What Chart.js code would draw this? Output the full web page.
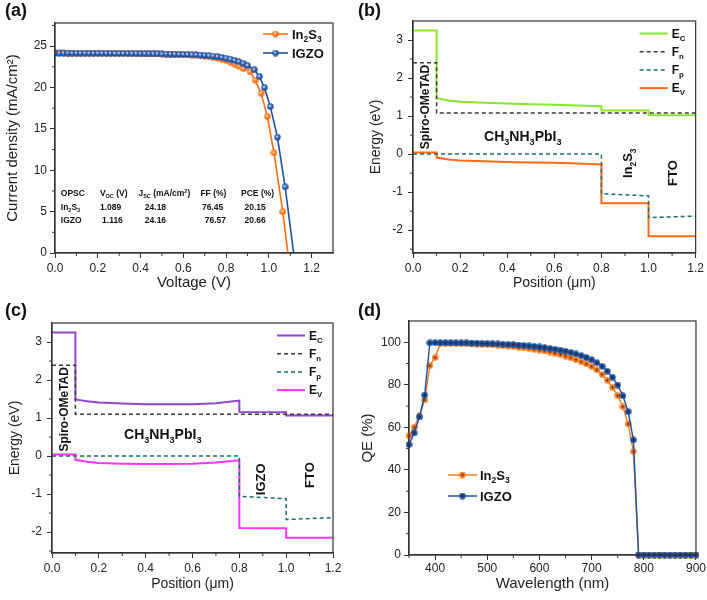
<!DOCTYPE html>
<html>
<head>
<meta charset="utf-8">
<script src="https://cdn.jsdelivr.net/npm/chart.js@4.4.0/dist/chart.umd.min.js"></script>
<style>
    html, body { margin: 0; padding: 0; background: #fff; }
    #wrap { position: relative; width: 707px; height: 600px; }
    canvas { position: absolute; }
</style>
</head>
<body>
<div id="wrap">
    <canvas id="chartA" width="353" height="300" style="left:0;top:0"></canvas>
    <canvas id="chartB" width="354" height="300" style="left:353px;top:0"></canvas>
    <canvas id="chartC" width="353" height="300" style="left:0;top:300px"></canvas>
    <canvas id="chartD" width="354" height="300" style="left:353px;top:300px"></canvas>
</div>
<script>
// ---- (a) J-V data ----
const voltageIn2S3 = [0.00,0.02,0.04,0.06,0.08,0.10,0.12,0.14,0.16,0.18,0.20,0.22,0.24,0.26,0.28,0.30,0.32,0.34,0.36,0.38,0.40,0.42,0.44,0.46,0.48,0.50,
    0.52,0.54,0.56,0.58,0.60,0.62,0.64,0.66,0.68,0.70,0.72,0.74,0.76,0.78,0.80,0.82,0.84,0.86,0.88,0.912,0.936,0.964,0.993,1.024,1.065,1.089];
const currentIn2S3 = [24.18,24.18,24.18,24.17,24.17,24.17,24.16,24.16,24.16,24.15,24.15,24.15,24.14,24.14,24.13,24.13,24.12,24.12,24.11,24.10,24.10,24.09,24.08,24.07,24.06,24.05,
    24.04,24.03,24.01,24.00,23.98,23.96,23.93,23.90,23.86,23.81,23.75,23.67,23.56,23.43,23.27,23.07,22.84,22.58,22.28,21.9,20.9,19.3,16.5,12.1,5.0,0];
const voltageIGZO = [0.00,0.02,0.04,0.06,0.08,0.10,0.12,0.14,0.16,0.18,0.20,0.22,0.24,0.26,0.28,0.30,0.32,0.34,0.36,0.38,0.40,0.42,0.44,0.46,0.48,0.50,
    0.52,0.54,0.56,0.58,0.60,0.62,0.64,0.66,0.68,0.70,0.72,0.74,0.76,0.78,0.80,0.82,0.84,0.86,0.88,0.90,0.932,0.956,0.979,1.007,1.040,1.076,1.116];
const currentIGZO = [24.16,24.16,24.16,24.16,24.15,24.15,24.15,24.15,24.14,24.14,24.14,24.13,24.13,24.13,24.12,24.12,24.11,24.11,24.10,24.10,24.09,24.09,24.08,24.07,24.07,24.06,
    24.05,24.04,24.03,24.02,24.00,23.99,23.97,23.95,23.92,23.89,23.85,23.80,23.73,23.65,23.55,23.43,23.29,23.12,22.92,22.66,22.15,21.35,20.0,17.7,14.0,8.0,0];
const voltageTicks = [0, 0.2, 0.4, 0.6, 0.8, 1.0, 1.2];
const minorVoltage = [0.1, 0.3, 0.5, 0.7, 0.9, 1.1];
const currentTicks = [0, 5, 10, 15, 20, 25];
const minorCurrent = [2.5, 7.5, 12.5, 17.5, 22.5, 27.5];
// table inside (a): Voc, Jsc, FF, PCE
const tableIn2S3 = ["1.089", "24.18", "76.45", "20.15"];
const tableIGZO = ["1.116", "24.16", "76.57", "20.66"];

// ---- (b) band diagram, In2S3 ETL ----
const posBands = [0, 0.1, 0.1, 0.15, 0.2, 0.3, 0.4, 0.5, 0.6, 0.7, 0.8, 0.8, 1.0, 1.0, 1.2];
const ecIn2S3 = [3.25, 3.25, 1.47, 1.41, 1.38, 1.35, 1.33, 1.31, 1.30, 1.28, 1.26, 1.15, 1.15, 1.02, 1.02];
const evIn2S3 = [0.04, 0.04, -0.09, -0.14, -0.17, -0.19, -0.21, -0.22, -0.23, -0.25, -0.27, -1.29, -1.29, -2.16, -2.16];
const posFn = [0, 0.1, 0.1, 1.2];
const fnIn2S3 = [2.4, 2.4, 1.08, 1.08];
const posFp = [0, 0.8, 0.8, 1.0, 1.0, 1.2];
const fpIn2S3 = [0, 0, -1.04, -1.10, -1.67, -1.63];

// ---- (c) band diagram, IGZO ETL ----
const ecIGZO = [3.25, 3.25, 1.49, 1.44, 1.41, 1.38, 1.36, 1.36, 1.36, 1.39, 1.46, 1.16, 1.15, 1.07, 1.07];
const evIGZO = [0.04, 0.04, -0.10, -0.15, -0.18, -0.20, -0.21, -0.21, -0.20, -0.17, -0.11, -1.89, -1.90, -2.15, -2.15];
const fnIGZO = [2.39, 2.39, 1.10, 1.10];
const fpIGZO = [0, 0, -1.06, -1.12, -1.67, -1.62];

const positionTicks = [0, 0.2, 0.4, 0.6, 0.8, 1.0, 1.2];
const minorPosition = [0.1, 0.3, 0.5, 0.7, 0.9, 1.1];
const energyTicks = [-2, -1, 0, 1, 2, 3];
const minorEnergy = [-2.5, -1.5, -0.5, 0.5, 1.5, 2.5];

// ---- (d) QE ----
const wavelength = [350,360,370,380,390,400,410,420,430,440,450,460,470,480,490,500,510,520,530,540,550,560,570,580,590,600,
    610,620,630,640,650,660,670,680,690,700,710,720,730,740,750,760,770,780,790,800,810,820,830,840,850,860,870,880,890,900];
const qeIn2S3 = [56.0,60.0,65.4,72.9,89.0,92.8,99.3,99.5,99.4,99.4,99.3,99.3,99.2,99.1,99.0,98.9,98.8,98.6,98.4,98.2,98.0,97.7,97.4,97.1,96.7,96.3,
    95.9,95.4,94.8,94.2,93.5,92.7,91.8,90.8,89.8,88.6,87.0,84.9,82.1,78.8,74.9,69.7,61.6,48.7,0,0,0,0,0,0,0,0,0,0,0,0];
const qeIGZO = [51.9,57.4,64.9,75.2,99.7,99.8,99.8,99.8,99.8,99.7,99.7,99.7,99.6,99.6,99.5,99.4,99.3,99.2,99.1,99.0,98.9,98.7,98.5,98.3,98.1,97.8,
    97.5,97.1,96.7,96.3,95.8,95.2,94.5,93.7,92.8,91.8,90.4,88.7,86.4,83.5,79.9,74.8,67.4,54.1,0,0,0,0,0,0,0,0,0,0,0,0];
const wavelengthTicks = [400, 500, 600, 700, 800, 900];
const minorWavelength = [350, 450, 550, 650, 750, 850];
const qeTicks = [0, 20, 40, 60, 80, 100];
const minorQE = [10, 30, 50, 70, 90];

const FONT = 'Arial, "Liberation Sans", Helvetica, sans-serif';
Chart.defaults.font.family = FONT;
Chart.defaults.color = "#222";
Chart.defaults.animation = false;

const ORANGE = "#ff6f12";
const BLUE = "#1f4f9f";

function pts(xs, ys) {
    return xs.map((x, i) => ({ x: x, y: ys[i] }));
}

// shaded ball marker for (a)
function makeBall(base, light, size) {
    const c = document.createElement("canvas");
    c.width = c.height = size;
    const g = c.getContext("2d");
    const r = size / 2;
    const grad = g.createRadialGradient(r * 0.8, r * 0.75, r * 0.1, r, r, r);
    grad.addColorStop(0, light);
    grad.addColorStop(0.55, base);
    grad.addColorStop(1, base);
    g.fillStyle = grad;
    g.beginPath();
    g.arc(r, r, r - 0.3, 0, Math.PI * 2);
    g.fill();
    return c;
}

// dot marker with dark centre for (d)
function makeDot(base, size) {
    const c = document.createElement("canvas");
    c.width = c.height = size;
    const g = c.getContext("2d");
    const r = size / 2;
    g.fillStyle = base;
    g.beginPath();
    g.arc(r, r, r - 0.3, 0, Math.PI * 2);
    g.fill();
    g.fillStyle = "#1a1a1a";
    g.beginPath();
    g.arc(r, r, 1, 0, Math.PI * 2);
    g.fill();
    return c;
}

const ballOrange = makeBall(ORANGE, "#ffe0c4", 7);
const ballBlue = makeBall(BLUE, "#c8dcff", 7);
const dotOrange = makeDot("#ff7a1c", 7);
const dotBlue = makeDot("#1c4f9c", 7);

// text with sub/superscripts: parts starting with "_" are subscripts, "^" superscripts
function drawRich(ctx, parts, x, y, size, align, weight) {
    weight = weight || "bold";
    const segs = parts.map(p => {
        let mode = "", t = p;
        if (p[0] === "_" || p[0] === "^") { mode = p[0]; t = p.slice(1); }
        const s = mode ? size * 0.65 : size;
        ctx.font = weight + " " + s + "px " + FONT;
        return { t: t, mode: mode, s: s, w: ctx.measureText(t).width };
    });
    const total = segs.reduce((a, s) => a + s.w, 0);
    let cx = align === "center" ? x - total / 2 : (align === "right" ? x - total : x);
    ctx.textAlign = "left";
    ctx.textBaseline = "alphabetic";
    segs.forEach(s => {
        ctx.font = weight + " " + s.s + "px " + FONT;
        const dy = s.mode === "_" ? size * 0.25 : (s.mode === "^" ? -size * 0.4 : 0);
        ctx.fillText(s.t, cx, y + dy);
        cx += s.w;
    });
}

function drawVertical(ctx, parts, x, y, size) {
    ctx.save();
    ctx.translate(x, y);
    ctx.rotate(-Math.PI / 2);
    drawRich(ctx, parts, 0, size * 0.36, size, "center");
    ctx.restore();
}

// frame, minor ticks, panel letter and extra drawing
const decor = {
    id: "decor",
    afterDatasetsDraw(chart, args, opts) {
        const ctx = chart.ctx, a = chart.chartArea;
        const xs = chart.scales.x, ys = chart.scales.y;
        ctx.save();
        ctx.strokeStyle = "#333";
        ctx.lineWidth = 1.2;
        ctx.strokeRect(a.left, a.top, a.right - a.left, a.bottom - a.top);
        ctx.lineWidth = 1;
        ctx.beginPath();
        opts.minorX.forEach(v => {
            const p = xs.getPixelForValue(v);
            ctx.moveTo(p, a.bottom); ctx.lineTo(p, a.bottom + 3);
        });
        opts.minorY.forEach(v => {
            const p = ys.getPixelForValue(v);
            ctx.moveTo(a.left, p); ctx.lineTo(a.left - 3, p);
        });
        ctx.stroke();
        ctx.fillStyle = "#111";
        ctx.font = "bold 18px " + FONT;
        ctx.textAlign = "left";
        ctx.textBaseline = "alphabetic";
        ctx.fillText(opts.letter, 5, 16);
        if (opts.draw) opts.draw(chart, ctx);
        ctx.restore();
    }
};

function axis(o) {
    return {
        type: "linear",
        min: o.min,
        max: o.max,
        afterBuildTicks: s => { s.ticks = o.ticks.map(v => ({ value: v })); },
        afterFit: s => {
            if (o.width !== undefined) s.width = o.width;
            if (o.height !== undefined) s.height = o.height;
        },
        ticks: { font: { size: 12 }, color: "#222", padding: o.pad, maxRotation: 0, autoSkip: false, callback: o.fmt },
        grid: { drawOnChartArea: false, drawTicks: true, tickLength: 5, tickColor: "#333", tickWidth: 1 },
        border: { display: true, color: "#333", width: 1.2 },
        title: { display: true, text: o.title, color: "#222", font: { size: o.titleSize }, padding: o.titlePad }
    };
}

const fmt1 = v => v.toFixed(1);
const fmt0 = v => String(v);

function bandLegend(ctx, a, items) {
    items.forEach((it, i) => {
        const y = a.top + 12.5 + i * 18.2;
        ctx.save();
        ctx.strokeStyle = it.color;
        ctx.lineWidth = it.dash ? 1.5 : 2;
        ctx.setLineDash(it.dash ? [4, 3] : []);
        ctx.beginPath();
        ctx.moveTo(a.right - 56, y);
        ctx.lineTo(a.right - 28, y);
        ctx.stroke();
        ctx.restore();
        ctx.fillStyle = "#111";
        drawRich(ctx, it.label, a.right - 24, y + 4.3, 12, "left");
    });
}

// ---------- (a) ----------
function drawPanelA(chart, ctx) {
    const xs = chart.scales.x, ys = chart.scales.y, a = chart.chartArea;
    const colX = [0.027, 0.21, 0.39, 0.68, 0.87];
    const rowY = [7.23, 5.61, 4.01];
    const header = [["OPSC"], ["V", "_OC", " (V)"], ["J", "_SC", " (mA/cm", "^2", ")"], ["FF (%)"], ["PCE (%)"]];
    const valX = [[0.21, 0.42, 0.687, 0.886], [0.22, 0.42, 0.70, 0.886]];
    ctx.fillStyle = "#111";
    header.forEach((h, i) => drawRich(ctx, h, xs.getPixelForValue(colX[i]), ys.getPixelForValue(rowY[0]) + 3, 8.5, "left"));
    drawRich(ctx, ["In", "_2", "S", "_3"], xs.getPixelForValue(colX[0]), ys.getPixelForValue(rowY[1]) + 3, 8.5, "left");
    drawRich(ctx, ["IGZO"], xs.getPixelForValue(colX[0]), ys.getPixelForValue(rowY[2]) + 3, 8.5, "left");
    [tableIn2S3, tableIGZO].forEach((row, r) => row.forEach((v, i) =>
        drawRich(ctx, [v], xs.getPixelForValue(valX[r][i]), ys.getPixelForValue(rowY[r + 1]) + 3, 8.5, "left")));

    const items = [
        { label: ["In", "_2", "S", "_3"], color: ORANGE, img: ballOrange },
        { label: ["IGZO"], color: BLUE, img: ballBlue }
    ];
    items.forEach((it, i) => {
        const y = a.top + 11 + i * 19;
        ctx.strokeStyle = it.color;
        ctx.lineWidth = 1.6;
        ctx.beginPath();
        ctx.moveTo(a.right - 70, y);
        ctx.lineTo(a.right - 45, y);
        ctx.stroke();
        ctx.drawImage(it.img, a.right - 57.5 - 3.5, y - 3.5);
        ctx.fillStyle = "#111";
        drawRich(ctx, it.label, a.right - 41, y + 4.6, 13, "left");
    });
}

const lastNoMarker = c => (c.dataIndex === c.dataset.data.length - 1 ? 0 : 3);

new Chart(document.getElementById("chartA"), {
    type: "line",
    data: {
        datasets: [
            { data: pts(voltageIn2S3, currentIn2S3), borderColor: ORANGE, borderWidth: 1.6, pointStyle: ballOrange, pointRadius: lastNoMarker, order: 2 },
            { data: pts(voltageIGZO, currentIGZO), borderColor: BLUE, borderWidth: 1.6, pointStyle: ballBlue, pointRadius: lastNoMarker, order: 1 }
        ]
    },
    options: {
        responsive: false,
        layout: { autoPadding: false, padding: { left: 0, top: 23, right: 20, bottom: 0 } },
        scales: {
            x: axis({ min: 0, max: 1.3, ticks: voltageTicks, fmt: fmt1, pad: 3, height: 47, title: "Voltage (V)", titleSize: 15, titlePad: { bottom: 8 } }),
            y: axis({ min: 0, max: 27.8, ticks: currentTicks, fmt: fmt0, pad: 3, width: 55, title: "Current density (mA/cm\u00b2)", titleSize: 15, titlePad: { top: 4 } })
        },
        plugins: {
            legend: { display: false },
            tooltip: { enabled: false },
            decor: { letter: "(a)", minorX: minorVoltage, minorY: minorCurrent, draw: drawPanelA }
        }
    },
    plugins: [decor]
});

// ---------- (b) and (c) ----------
function bandChart(id, ec, ev, fn, fp, ecColor, evColor, layout, yMin, annots, letter) {
    const fnColor = "#3a3a3a", fpColor = "#1e6b6b";
    new Chart(document.getElementById(id), {
        type: "line",
        data: {
            datasets: [
                { data: pts(posFn, fn), borderColor: fnColor, borderWidth: 1.5, borderDash: [4, 3], pointRadius: 0 },
                { data: pts(posFp, fp), borderColor: fpColor, borderWidth: 1.5, borderDash: [4, 3], pointRadius: 0 },
                { data: pts(posBands, ec), borderColor: ecColor, borderWidth: 2, pointRadius: 0 },
                { data: pts(posBands, ev), borderColor: evColor, borderWidth: 2, pointRadius: 0 }
            ]
        },
        options: {
            responsive: false,
            layout: { autoPadding: false, padding: { left: 0, top: layout.top, right: layout.right, bottom: 0 } },
            scales: {
                x: axis({ min: 0, max: 1.2, ticks: positionTicks, fmt: fmt1, pad: 3, height: 47, title: "Position (\u03bcm)", titleSize: 14, titlePad: { bottom: layout.xTitlePad } }),
                y: axis({ min: yMin, max: 3.5, ticks: energyTicks, fmt: fmt0, pad: 5, width: layout.yWidth, title: "Energy (eV)", titleSize: 14, titlePad: { top: layout.yTitlePad } })
            },
            plugins: {
                legend: { display: false },
                tooltip: { enabled: false },
                decor: {
                    letter: letter, minorX: minorPosition, minorY: minorEnergy,
                    draw: (chart, ctx) => {
                        const xs = chart.scales.x, ys = chart.scales.y;
                        ctx.fillStyle = "#111";
                        annots.forEach(t => {
                            const px = xs.getPixelForValue(t.x), py = ys.getPixelForValue(t.y);
                            if (t.rot) drawVertical(ctx, t.parts, px, py, t.size);
                            else drawRich(ctx, t.parts, px, py + t.size * 0.36, t.size, "center");
                        });
                        bandLegend(ctx, chart.chartArea, [
                            { label: ["E", "_C"], color: ecColor },
                            { label: ["F", "_n"], color: fnColor, dash: true },
                            { label: ["F", "_p"], color: fpColor, dash: true },
                            { label: ["E", "_V"], color: evColor }
                        ]);
                    }
                }
            }
        },
        plugins: [decor]
    });
}

bandChart("chartB", ecIn2S3, evIn2S3, fnIn2S3, fpIn2S3, "#86e82c", "#ff6a13",
    { top: 21, right: 11, yWidth: 60, yTitlePad: 14.5, xTitlePad: 8.5 }, -2.6,
    [
        { parts: ["Spiro-OMeTAD"], x: 0.05, y: 1.24, rot: true, size: 12 },
        { parts: ["CH", "_3", "NH", "_3", "PbI", "_3"], x: 0.466, y: 0.47, size: 14 },
        { parts: ["In", "_2", "S", "_3"], x: 0.911, y: -0.24, rot: true, size: 13 },
        { parts: ["FTO"], x: 1.10, y: -0.5, rot: true, size: 13 }
    ], "(b)");

bandChart("chartC", ecIGZO, evIGZO, fnIGZO, fpIGZO, "#9146c9", "#ff33ff",
    { top: 23, right: 20, yWidth: 52, yTitlePad: 6.6, xTitlePad: 7.6 }, -2.55,
    [
        { parts: ["Spiro-OMeTAD"], x: 0.05, y: 1.23, rot: true, size: 12 },
        { parts: ["CH", "_3", "NH", "_3", "PbI", "_3"], x: 0.473, y: 0.57, size: 14 },
        { parts: ["IGZO"], x: 0.89, y: -0.61, rot: true, size: 13 },
        { parts: ["FTO"], x: 1.10, y: -0.5, rot: true, size: 13 }
    ], "(c)");

// ---------- (d) ----------
function drawPanelD(chart, ctx) {
    const a = chart.chartArea;
    const items = [
        { label: ["In", "_2", "S", "_3"], color: "#ff7a1c", img: dotOrange },
        { label: ["IGZO"], color: "#1c4f9c", img: dotBlue }
    ];
    items.forEach((it, i) => {
        const y = a.top + 154 + i * 21;
        ctx.strokeStyle = it.color;
        ctx.lineWidth = 1.5;
        ctx.beginPath();
        ctx.moveTo(a.left + 39, y);
        ctx.lineTo(a.left + 68, y);
        ctx.stroke();
        ctx.drawImage(it.img, a.left + 53.5 - 3.5, y - 3.5);
        ctx.fillStyle = "#111";
        drawRich(ctx, it.label, a.left + 71, y + 4.6, 13, "left");
    });
}

new Chart(document.getElementById("chartD"), {
    type: "line",
    data: {
        datasets: [
            { data: pts(wavelength, qeIn2S3), borderColor: "#ff7a1c", borderWidth: 1.4, pointStyle: dotOrange, pointRadius: 3, clip: false, order: 2 },
            { data: pts(wavelength, qeIGZO), borderColor: "#1c4f9c", borderWidth: 1.4, pointStyle: dotBlue, pointRadius: 3, clip: false, order: 1 }
        ]
    },
    options: {
        responsive: false,
        layout: { autoPadding: false, padding: { left: 0, top: 21, right: 10, bottom: 0 } },
        scales: {
            x: axis({ min: 350, max: 900, ticks: wavelengthTicks, fmt: fmt0, pad: 1, height: 45, title: "Wavelength (nm)", titleSize: 15, titlePad: { bottom: 7 } }),
            y: axis({ min: 0, max: 110, ticks: qeTicks, fmt: fmt0, pad: 3, width: 56, title: "QE (%)", titleSize: 15, titlePad: { top: 6 } })
        },
        plugins: {
            legend: { display: false },
            tooltip: { enabled: false },
            decor: { letter: "(d)", minorX: minorWavelength, minorY: minorQE, draw: drawPanelD }
        }
    },
    plugins: [decor]
});
</script>
</body>
</html>
